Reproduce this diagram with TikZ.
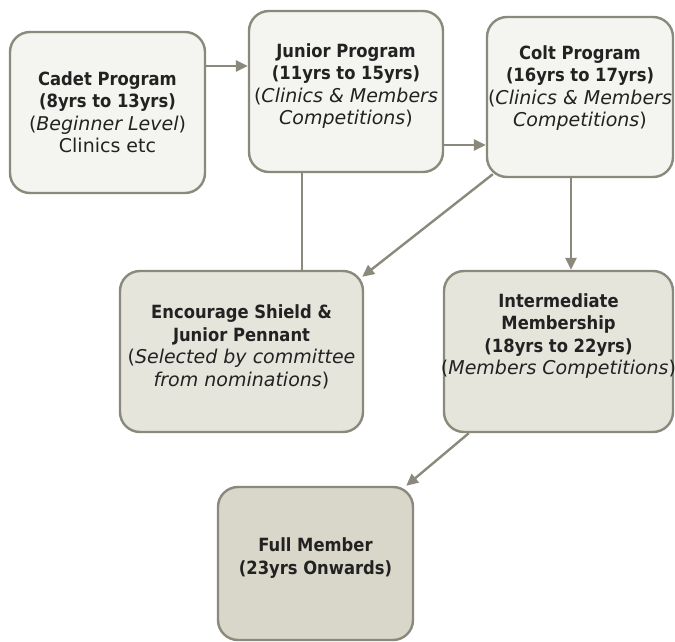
\documentclass[tikz,border=0pt]{standalone}
\usepackage{fontspec}
\setmainfont{DejaVu Sans}[BoldFont={DejaVu Sans Condensed Bold}]
\usetikzlibrary{arrows.meta,calc}
\definecolor{edge}{HTML}{8A897B}
\definecolor{fillA}{HTML}{F4F4F0}
\definecolor{fillB}{HTML}{E6E5DC}
\definecolor{fillC}{HTML}{D9D7CA}
\definecolor{ink}{HTML}{222222}
\newcommand{\bx}[1]{{\fontsize{18.2}{22.5}\selectfont\bfseries #1}}
\tikzset{
  box/.style={draw=edge, line width=2.4pt, rounded corners=20pt, rectangle, inner sep=0pt},
  txt/.style={align=center, text=ink, font=\fontsize{19}{22.5}\selectfont, inner sep=0pt},
  conn/.style={draw=edge, line width=2.4pt},
  arr/.style={conn, -{Triangle[length=12pt,width=11pt]}},
}
\begin{document}
\begin{tikzpicture}[x=1pt,y=-1pt]
\useasboundingbox (0,0) rectangle (675,642);
% boxes
\node[box, fill=fillA, minimum width=195pt, minimum height=161pt] (cadet) at (107.5,112.5) {};
\node[box, fill=fillA, minimum width=194pt, minimum height=161pt] (junior) at (346,91.5) {};
\node[box, fill=fillA, minimum width=186pt, minimum height=160pt] (colt) at (580,97) {};
\node[box, fill=fillB, minimum width=243pt, minimum height=161pt] (enc) at (241.5,351.5) {};
\node[box, fill=fillB, minimum width=229pt, minimum height=161pt] (inter) at (558.5,351.5) {};
\node[box, fill=fillC, minimum width=195pt, minimum height=153pt] (full) at (315.5,563.5) {};
% texts
\node[txt] (cadet-t) at (107.5,112) {\bx{Cadet Program}\\\bx{(8yrs to 13yrs)}\\(\textit{Beginner Level})\\Clinics etc};
\node[txt] (junior-t) at (346,86) {\bx{Junior Program}\\\bx{(11yrs to 15yrs)}\\(\textit{Clinics \& Members}\\\textit{Competitions})};
\node[txt] (colt-t) at (580,88) {\bx{Colt Program}\\\bx{(16yrs to 17yrs)}\\(\textit{Clinics \& Members}\\\textit{Competitions})};
\node[txt] (enc-t) at (241.5,347) {\bx{Encourage Shield \&}\\\bx{Junior Pennant}\\(\textit{Selected by committee}\\\textit{from nominations})};
\node[txt] (inter-t) at (558.5,336) {\bx{Intermediate}\\\bx{Membership}\\\bx{(18yrs to 22yrs)}\\(\textit{Members Competitions})};
\node[txt] (full-t) at (315.5,558) {\bx{Full Member}\\\bx{(23yrs Onwards)}};
% connectors
\coordinate (c1) at ($(cadet.east)+(0,-46.5)$);
\draw[arr] (c1) -- (c1 -| junior.west);
\coordinate (c2) at ($(junior.east)+(0,53.5)$);
\draw[arr] (c2) -- (c2 -| colt.west);
\coordinate (c3) at ($(junior.south)+(-44,0)$);
\draw[conn] (c3) -- (c3 |- enc.north);
\coordinate (c4) at ($(colt.south west)+(7,-4)$);
\coordinate (c5) at ($(enc.north east)+(-2,7)$);
\draw[arr] (c4) -- (c5);
\coordinate (c6) at ($(colt.south)+(-9,0)$);
\draw[arr] (c6) -- (c6 |- inter.north);
\coordinate (c7) at ($(inter.south west)+(26,0)$);
\coordinate (c8) at ($(full.north east)+(-8,0)$);
\draw[arr] (c7) -- (c8);
\end{tikzpicture}
\end{document}
